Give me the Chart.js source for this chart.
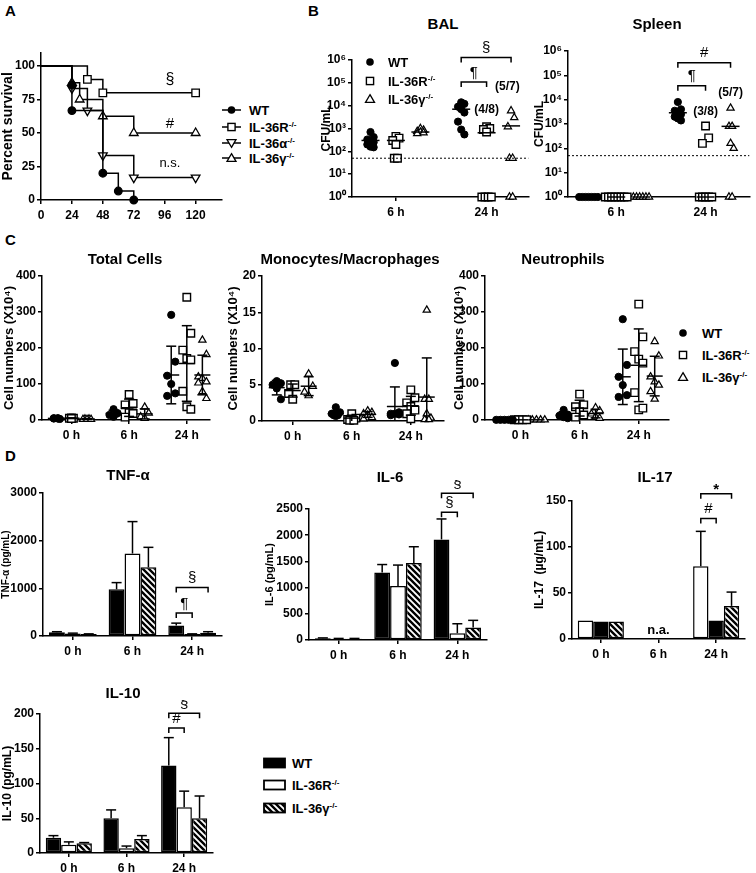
<!DOCTYPE html>
<html>
<head>
<meta charset="utf-8">
<script src="https://cdn.jsdelivr.net/npm/chart.js@4.4.0/dist/chart.umd.min.js"></script>
<style>
body { margin: 0; background: #fff; }
#page { position: relative; width: 756px; height: 873px; overflow: hidden; background: #fff;
  font-family: 'Liberation Sans', Arial, sans-serif; font-weight: bold; color: #000; }
#page canvas { position: absolute; }
.t { position: absolute; white-space: nowrap; line-height: 1; }
.t sup { font-size: 0.62em; vertical-align: 0.55em; line-height: 0; }
</style>
</head>
<body>
<div id="page"></div>
<script>
// ---------- data ----------
const survHours = [0, 24, 48, 72, 96, 120];
const wtTime = [0, 24, 24, 48, 60, 72];
const wtSurv = [100, 85.7, 66.7, 20, 6.7, 0];
const rTime = [0, 36, 48, 120];
const rSurv = [100, 90, 80, 80];
const aTime = [0, 24, 36, 48, 72, 120];
const aSurv = [100, 83.3, 66.7, 33.3, 16.7, 16.7];
const gTime = [0, 24, 30, 48, 72, 120];
const gSurv = [100, 87.5, 75, 62.5, 50, 50];

const cfuTimes = ['6 h', '24 h'];
const cfuTicks = [1, 10, 100, 1e3, 1e4, 1e5, 1e6];
const cfuLimit = 50;
const balWT = [[700, 420, 330, 280, 250, 200, 160, 150], [14000, 12000, 9000, 7000, 5000, 2000, 900, 550]];
const balR = [[450, 380, 300, 200, 50, 50], [1200, 1000, 900, 700, 1, 1, 1, 1]];
const balG = [[1000, 850, 750, 700, 650, 600], [6000, 3000, 1200, 50, 50, 1, 1]];
const balMedian = [[300, 7000], [300, 650], [700, 1300]];
const splWT = [[1, 1, 1, 1, 1, 1, 1], [8000, 4000, 3500, 3000, 2500, 2000, 1700, 1400]];
const splR = [[1, 1, 1, 1, 1, 1, 1, 1], [830, 270, 160, 1, 1, 1, 1, 1]];
const splG = [[1, 1, 1, 1, 1, 1], [4500, 800, 800, 160, 100, 1, 1]];
const splMedian = [[1, 2900], [1, 1], [1, 800]];

const cellTimes = ['0 h', '6 h', '24 h'];
const totWT = [[5, 5, 4, 4, 3], [30, 19, 14, 9], [292, 162, 123, 100, 74, 67]];
const totR = [[6, 5, 5, 4], [71, 46, 42, 20, 18, 8], [341, 241, 194, 171, 167, 80, 37, 30]];
const totG = [[3, 3, 2, 2, 2], [36, 19, 9, 5], [222, 182, 120, 116, 106, 103, 79, 60]];
const totMean = [[4.5, 18, 125], [5, 34, 157], [2.5, 17, 125]];
const totSd = [[1, 9, 80], [1, 24, 105], [1, 14, 55]];
const monoWT = [[5.5, 5.2, 5, 4.5, 3], [1.9, 1.2, 1, 0.9, 0.8, 0.8, 0.7], [8, 1.2, 1, 1, 0.9, 0.8, 1]];
const monoR = [[5, 5, 3.8, 3], [1, 0.4, 0.2, 0.1, 0.1], [4.3, 3.2, 2.5, 2, 1.5, 1, 0.3]];
const monoG = [[6.5, 4.8, 4, 3.5], [1.4, 1.2, 1, 0.8, 0.5, 0.3], [15.3, 3, 3, 1, 0.4, 0.2, 0.2]];
const monoMean = [[4.6, 1, 2], [4.2, 0.4, 2.1], [4.8, 0.9, 3.3]];
const monoSd = [[1, 0.4, 2.7], [0.9, 0.4, 1.3], [1.3, 0.4, 5.4]];
const neuWT = [[0.5, 0.5, 0.5, 0.5, 0.5], [28, 15, 12, 8, 5], [280, 153, 120, 97, 69, 64]];
const neuR = [[0.5, 0.5, 0.5, 0.5], [72, 42, 37, 23, 14, 8], [322, 231, 190, 169, 158, 76, 28, 33]];
const neuG = [[0.5, 0.5, 0.5, 0.5, 0.5], [34, 26, 17, 9, 5], [218, 178, 120, 106, 97, 79, 58]];
const neuMean = [[0.5, 14, 120], [0.5, 33, 152], [0.5, 18, 122]];
const neuSd = [[0, 9, 77], [0, 22, 101], [0, 12, 55]];

const cytoTimes = ['0 h', '6 h', '24 h'];
const tnfMean = [[80, 980, 220], [50, 1730, 40], [40, 1440, 70]];
const tnfErr = [[10, 140, 50], [10, 670, 5], [5, 420, 20]];
const il6Mean = [[35, 1290, 1920], [25, 1030, 130], [25, 1470, 240]];
const il6Err = [[5, 150, 390], [5, 400, 180], [5, 310, 135]];
const il17Mean = [[20, null, 79], [19, null, 20], [19, null, 36]];
const il17Err = [[0, 0, 38], [0, 0, 0], [0, 0, 15]];
const il10Mean = [[22, 50, 126], [12, 7, 66], [14, 20, 50]];
const il10Err = [[3, 12, 40], [4, 3, 23], [1, 5, 32]];

// ---------- setup ----------
const page = document.getElementById('page');
const BLACK = '#000';
const SUP = ['⁰', '¹', '²', '³', '⁴', '⁵', '⁶'];
Chart.defaults.font.family = "'Liberation Sans', Arial, sans-serif";
Chart.defaults.color = BLACK;
Chart.defaults.animation = false;
Chart.defaults.plugins.legend.display = false;
Chart.defaults.plugins.tooltip.enabled = false;

function hatch() {
  const c = document.createElement('canvas');
  c.width = 6; c.height = 6;
  const x = c.getContext('2d');
  x.fillStyle = '#fff'; x.fillRect(0, 0, 6, 6);
  x.strokeStyle = BLACK; x.lineWidth = 2.4;
  x.beginPath();
  x.moveTo(-1, -1); x.lineTo(7, 7);
  x.moveTo(-1, 5); x.lineTo(1, 7);
  x.moveTo(5, -1); x.lineTo(7, 1);
  x.stroke();
  return x.createPattern(c, 'repeat');
}
const HATCH = hatch();

// sideways spread inside one column: equal values in a row, others zig-zag a little
function spreadCol(vals, step) {
  return vals.map((v, i) => {
    const same = vals.filter(u => u === v).length;
    if (same > 1) {
      const k = vals.slice(0, i).filter(u => u === v).length;
      return (k - (same - 1) / 2) * step;
    }
    return [0, 1, -1][i % 3] * step;
  });
}

const marks = {
  id: 'marks',
  afterDatasetsDraw(chart, args, o) {
    const ctx = chart.ctx, a = chart.chartArea;
    const xs = chart.scales.x, ys = chart.scales.y;
    const line = (x1, y1, x2, y2) => { ctx.beginPath(); ctx.moveTo(x1, y1); ctx.lineTo(x2, y2); ctx.stroke(); };
    ctx.save();
    ctx.strokeStyle = BLACK; ctx.fillStyle = BLACK; ctx.lineWidth = 1.5;
    if (o.limit !== undefined) {
      const y = ys.getPixelForValue(o.limit);
      ctx.save(); ctx.lineWidth = 1; ctx.setLineDash([2, 2]);
      line(a.left, y, a.right, y);
      ctx.restore();
    }
    chart.data.datasets.forEach((ds, di) => {
      if (ds.mid) {
        ds.mid.forEach((m, g) => {
          const x = xs.getPixelForValue(o.pos[g] + ds.off);
          const y = ys.getPixelForValue(m);
          line(x - o.mw, y, x + o.mw, y);
          if (ds.sd && ds.sd[g] > 0) {
            const top = ys.getPixelForValue(m + ds.sd[g]);
            let bot = ys.getPixelForValue(m - ds.sd[g]);
            const clipped = m - ds.sd[g] <= 0;
            if (clipped) bot = a.bottom;
            line(x, top, x, bot);
            line(x - o.cw, top, x + o.cw, top);
            if (!clipped) line(x - o.cw, bot, x + o.cw, bot);
          }
        });
      }
      if (ds.err) {
        const meta = chart.getDatasetMeta(di);
        meta.data.forEach((el, j) => {
          if (ds.data[j] == null || !ds.err[j]) return;
          const top = ys.getPixelForValue(ds.data[j] + ds.err[j]);
          line(el.x, el.y, el.x, top);
          line(el.x - o.cw, top, el.x + o.cw, top);
        });
      }
    });
    (o.brackets || []).forEach(b => {
      let x1, x2;
      if (b.cat !== undefined) {
        x1 = chart.getDatasetMeta(b.a).data[b.cat].x;
        x2 = chart.getDatasetMeta(b.b).data[b.cat].x;
      } else {
        x1 = xs.getPixelForValue(b.x1);
        x2 = xs.getPixelForValue(b.x2);
      }
      const y = ys.getPixelForValue(b.v);
      ctx.beginPath();
      ctx.moveTo(x1, y + 5); ctx.lineTo(x1, y); ctx.lineTo(x2, y); ctx.lineTo(x2, y + 5);
      ctx.stroke();
      ctx.font = (b.bold ? 'bold ' : '') + (b.size || 15) + "px 'Liberation Sans', Arial, sans-serif";
      ctx.textAlign = 'center'; ctx.textBaseline = 'bottom';
      ctx.fillText(b.t, (x1 + x2) / 2, y - 2 + (b.dy || 0));
    });
    (o.notes || []).forEach(n => {
      ctx.font = (n.bold ? 'bold ' : '') + (n.size || 14) + "px 'Liberation Sans', Arial, sans-serif";
      ctx.textAlign = 'center'; ctx.textBaseline = 'middle';
      ctx.fillText(n.t, xs.getPixelForValue(n.x), ys.getPixelForValue(n.y));
    });
    ctx.restore();
  }
};
Chart.register(marks);

function canvasAt(l, t, w, h) {
  const c = document.createElement('canvas');
  c.width = w; c.height = h;
  c.style.left = l + 'px'; c.style.top = t + 'px';
  c.style.width = w + 'px'; c.style.height = h + 'px';
  page.appendChild(c);
  return c;
}

function baseAxis() {
  return {
    border: { color: BLACK, width: 1.5 },
    grid: { drawOnChartArea: false, drawTicks: true, tickLength: 4, color: BLACK, lineWidth: 1.5 }
  };
}
function yLin(width, max, step, title, tsize) {
  return Object.assign(baseAxis(), {
    min: 0, max: max,
    ticks: { stepSize: step, includeBounds: false, padding: 2, font: { size: 12, weight: 'bold' },
      callback: v => String(v) },
    title: { display: true, text: title, padding: 0, font: { size: tsize, weight: 'bold' } },
    afterFit: s => { s.width = width; }
  });
}
function yLog(width, title) {
  return Object.assign(baseAxis(), {
    type: 'logarithmic', min: 1, max: 1e6,
    afterBuildTicks: s => { s.ticks = cfuTicks.map(v => ({ value: v })); },
    ticks: { padding: 2, font: { size: 12, weight: 'bold' },
      callback: v => '10' + SUP[Math.round(Math.log10(v))] },
    title: { display: true, text: title, padding: 0, font: { size: 12, weight: 'bold' } },
    afterFit: s => { s.width = width; }
  });
}
function xGroups(min, max, pos, names, h) {
  return Object.assign(baseAxis(), {
    type: 'linear', min: min, max: max,
    afterBuildTicks: s => { s.ticks = pos.map(v => ({ value: v })); },
    ticks: { padding: 4, font: { size: 12, weight: 'bold' }, callback: (v, i) => names[i] },
    afterFit: s => { s.height = h; }
  });
}
function xCats(h) {
  const ax = Object.assign(baseAxis(), {
    type: 'category',
    ticks: { padding: 4, font: { size: 12, weight: 'bold' } },
    afterFit: s => { s.height = h; }
  });
  ax.grid.offset = false;
  return ax;
}

const dotStyles = [
  { pointStyle: 'circle', pointRadius: 3.6, pointBackgroundColor: BLACK, pointBorderColor: BLACK, pointBorderWidth: 1 },
  { pointStyle: 'rect', pointRadius: 5.3, pointBackgroundColor: '#fff', pointBorderColor: BLACK, pointBorderWidth: 1.4 },
  { pointStyle: 'triangle', pointRadius: 4.2, pointBackgroundColor: '#fff', pointBorderColor: BLACK, pointBorderWidth: 1.2 }
];

function dotSets(series, pos, offs, step, mids, sds) {
  return series.map((groups, s) => Object.assign({
    data: groups.flatMap((vals, g) => {
      const dx = spreadCol(vals, step);
      return vals.map((v, i) => ({ x: pos[g] + offs[s] + dx[i], y: v }));
    }),
    off: offs[s], mid: mids[s], sd: sds ? sds[s] : null, clip: false
  }, dotStyles[s]));
}

function dotChart(g, x, y, datasets, marksOpts) {
  new Chart(canvasAt(g.l, g.t, g.w, g.h), {
    type: 'scatter',
    data: { datasets: datasets },
    options: {
      responsive: false, devicePixelRatio: 1,
      layout: { padding: { top: g.pt, right: g.pr, left: 0, bottom: 0 } },
      scales: { x: x, y: y },
      plugins: { marks: marksOpts }
    }
  });
}

function barChart(g, means, errs, fills, y, marksOpts) {
  new Chart(canvasAt(g.l, g.t, g.w, g.h), {
    type: 'bar',
    data: {
      labels: cytoTimes,
      datasets: means.map((m, s) => ({
        data: m, err: errs[s], backgroundColor: fills[s], borderColor: BLACK,
        borderWidth: 1.5, borderSkipped: false, categoryPercentage: 0.8, barPercentage: 1
      }))
    },
    options: {
      responsive: false, devicePixelRatio: 1,
      layout: { padding: { top: g.pt, right: g.pr, left: 0, bottom: 0 } },
      scales: { x: xCats(g.xh || 25), y: y },
      plugins: { marks: Object.assign({ cw: 5 }, marksOpts) }
    }
  });
}

// ---------- A: survival ----------
const survLines = [
  { t: wtTime, s: wtSurv, style: 'circle', r: 3.8, fill: BLACK, rot: 0 },
  { t: rTime, s: rSurv, style: 'rect', r: 5.3, fill: '#fff', rot: 0 },
  { t: aTime, s: aSurv, style: 'triangle', r: 5, fill: '#fff', rot: 180 },
  { t: gTime, s: gSurv, style: 'triangle', r: 5, fill: '#fff', rot: 0 }
];
new Chart(canvasAt(0, 40, 228, 185), {
  type: 'scatter',
  data: {
    datasets: survLines.map(d => ({
      data: d.t.map((h, i) => ({ x: h, y: d.s[i] })),
      showLine: true, stepped: 'before', borderColor: BLACK, borderWidth: 1.5,
      pointStyle: d.style, pointRotation: d.rot, pointBackgroundColor: d.fill,
      pointBorderColor: BLACK, pointBorderWidth: 1.3,
      pointRadius: c => c.dataIndex === 0 ? 0 : d.r, clip: false
    }))
  },
  options: {
    responsive: false, devicePixelRatio: 1,
    layout: { padding: { top: 12.6, right: 6, left: 0, bottom: 0 } },
    scales: {
      x: Object.assign(baseAxis(), {
        type: 'linear', min: 0, max: 140,
        afterBuildTicks: s => { s.ticks = survHours.map(v => ({ value: v })); },
        ticks: { padding: 4, font: { size: 12, weight: 'bold' } },
        afterFit: s => { s.height = 25; }
      }),
      y: yLin(41, 110, 25, 'Percent survival', 14)
    },
    plugins: {
      marks: { notes: [
        { x: 100, y: 90, t: '§', size: 16 },
        { x: 100, y: 57, t: '#', size: 15 },
        { x: 100, y: 27, t: 'n.s.', size: 13 }
      ] }
    }
  }
});

// ---------- B: BAL & spleen ----------
const cfuPos = [1, 2];
dotChart({ l: 319, t: 35, w: 216, h: 187, pt: 25, pr: 2 },
  xGroups(0.516, 2.46, cfuPos, cfuTimes, 25), yLog(33, 'CFU/mL'),
  dotSets([balWT, balR, balG], cfuPos, [-0.28, 0, 0.27], 0.035, balMedian, null),
  { pos: cfuPos, mw: 9, limit: cfuLimit,
    brackets: [
      { x1: 2 - 0.28, x2: 2, v: 1.1e5, t: '¶' },
      { x1: 2 - 0.28, x2: 2.27, v: 1.3e6, t: '§' }
    ],
    notes: [
      { x: 2.0, y: 6500, t: '(4/8)', size: 12, bold: true },
      { x: 2.23, y: 66000, t: '(5/7)', size: 12, bold: true }
    ] });

dotChart({ l: 532, t: 35, w: 224, h: 187, pt: 16, pr: 3 },
  xGroups(0.46, 2.49, cfuPos, cfuTimes, 25), yLog(36, 'CFU/mL'),
  dotSets([splWT, splR, splG], cfuPos, [-0.31, 0, 0.28], 0.035, splMedian, null),
  { pos: cfuPos, mw: 9, limit: cfuLimit,
    brackets: [
      { x1: 2 - 0.31, x2: 2, v: 3.7e4, t: '¶' },
      { x1: 2 - 0.31, x2: 2.28, v: 3.3e5, t: '#' }
    ],
    notes: [
      { x: 2, y: 3200, t: '(3/8)', size: 12, bold: true },
      { x: 2.28, y: 19000, t: '(5/7)', size: 12, bold: true }
    ] });

// ---------- C: cell counts ----------
const cellPos = [1, 2, 3];
const cellOffs = [-0.27, 0, 0.27];
const cellTitle = 'Cell numbers (X10⁴)';
dotChart({ l: 2, t: 262, w: 214, h: 183, pt: 14, pr: 3 },
  xGroups(0.49, 3.39, cellPos, cellTimes, 25), yLin(40, 400, 100, cellTitle, 13),
  dotSets([totWT, totR, totG], cellPos, cellOffs, 0.07, totMean, totSd),
  { pos: cellPos, mw: 8, cw: 5 });
dotChart({ l: 226, t: 262, w: 224, h: 184, pt: 14, pr: 3 },
  xGroups(0.48, 3.55, cellPos, cellTimes, 25), yLin(36, 20, 5, cellTitle, 13),
  dotSets([monoWT, monoR, monoG], cellPos, cellOffs, 0.07, monoMean, monoSd),
  { pos: cellPos, mw: 8, cw: 5 });
dotChart({ l: 452, t: 262, w: 223, h: 183, pt: 14, pr: 3 },
  xGroups(0.4, 3.5, cellPos, cellTimes, 25), yLin(33, 400, 100, cellTitle, 13),
  dotSets([neuWT, neuR, neuG], cellPos, cellOffs, 0.07, neuMean, neuSd),
  { pos: cellPos, mw: 8, cw: 5 });

// ---------- D: cytokines ----------
const stdFills = [BLACK, '#fff', HATCH];
barChart({ l: 0, t: 480, w: 225, h: 181, pt: 13, pr: 3 }, tnfMean, tnfErr, stdFills,
  yLin(43, 3000, 1000, 'TNF-α (pg/mL)', 10),
  { brackets: [{ a: 0, b: 1, cat: 2, v: 480, t: '¶' }, { a: 0, b: 2, cat: 2, v: 1020, t: '§' }] });
barChart({ l: 263, t: 480, w: 227, h: 185, pt: 29, pr: 3 }, il6Mean, il6Err, stdFills,
  yLin(46, 2500, 500, 'IL-6 (pg/mL)', 11),
  { brackets: [{ a: 0, b: 1, cat: 2, v: 2440, t: '§' }, { a: 0, b: 2, cat: 2, v: 2800, t: '§' }] });
barChart({ l: 532, t: 480, w: 224, h: 184, pt: 21, pr: 11 }, il17Mean, il17Err, ['#fff', BLACK, HATCH],
  yLin(40, 150, 50, 'IL-17  (µg/mL)', 12),
  { brackets: [{ a: 0, b: 1, cat: 2, v: 131, t: '#' },
               { a: 0, b: 2, cat: 2, v: 158, t: '*', size: 15, bold: true, dy: 6 }],
    notes: [{ x: 1, y: 9, t: 'n.a.', size: 13, bold: true }] });
barChart({ l: 0, t: 700, w: 216, h: 173, pt: 14, pr: 3, xh: 20 }, il10Mean, il10Err, stdFills,
  yLin(40, 200, 50, 'IL-10 (pg/mL)', 12),
  { brackets: [{ a: 0, b: 1, cat: 2, v: 180, t: '#' }, { a: 0, b: 2, cat: 2, v: 201, t: '§' }] });

// ---------- text & legends ----------
function text(html, x, y, size, center) {
  const d = document.createElement('div');
  d.className = 't';
  d.innerHTML = html;
  d.style.left = x + 'px'; d.style.top = y + 'px'; d.style.fontSize = size + 'px';
  d.style.transform = center ? 'translate(-50%,-50%)' : 'translateY(-50%)';
  page.appendChild(d);
}
[['A', 5, 10], ['B', 308, 10], ['C', 5, 239], ['D', 5, 455]].forEach(p => text(p[0], p[1], p[2], 15));
[['BAL', 443, 23], ['Spleen', 657, 23], ['Total Cells', 125, 258], ['Monocytes/Macrophages', 350, 258],
 ['Neutrophils', 563, 258], ['TNF-α', 128, 474], ['IL-6', 390, 476], ['IL-17', 655, 476], ['IL-10', 123, 692]]
  .forEach(p => text(p[0], p[1], p[2], 15, true));

const KO = '<sup>-/-</sup>';
const survNames = ['WT', 'IL-36R' + KO, 'IL-36α' + KO, 'IL-36γ' + KO];
const dotNames = ['WT', 'IL-36R' + KO, 'IL-36γ' + KO];

const sym = {
  circle: (x, y) => `<circle cx="${x}" cy="${y}" r="3.8" fill="#000"/>`,
  square: (x, y) => `<rect x="${x - 3.6}" y="${y - 3.6}" width="7.2" height="7.2" fill="#fff" stroke="#000" stroke-width="1.4"/>`,
  up: (x, y) => `<polygon points="${x},${y - 4.3} ${x + 4.5},${y + 3.3} ${x - 4.5},${y + 3.3}" fill="#fff" stroke="#000" stroke-width="1.3"/>`,
  down: (x, y) => `<polygon points="${x},${y + 4.3} ${x + 4.5},${y - 3.3} ${x - 4.5},${y - 3.3}" fill="#fff" stroke="#000" stroke-width="1.3"/>`
};
let svg = '<defs><pattern id="hp" width="6" height="6" patternUnits="userSpaceOnUse">' +
  '<rect width="6" height="6" fill="#fff"/><path d="M-1,-1 L7,7 M-1,5 L1,7 M5,-1 L7,1" stroke="#000" stroke-width="2.4"/></pattern></defs>';
const survRows = [110, 127, 143, 158];
['circle', 'square', 'down', 'up'].forEach((k, i) => {
  svg += `<line x1="222" y1="${survRows[i]}" x2="241" y2="${survRows[i]}" stroke="#000" stroke-width="1.5"/>` + sym[k](231.5, survRows[i]);
  text(survNames[i], 249, survRows[i], 13);
});
const balRows = [62, 81, 99];
const cellRows = [333, 355, 377];
['circle', 'square', 'up'].forEach((k, i) => {
  svg += sym[k](370, balRows[i]) + sym[k](683, cellRows[i]);
  text(dotNames[i], 388, balRows[i], 13);
  text(dotNames[i], 702, cellRows[i], 13);
});
const barRows = [763, 785, 808];
['#000', '#fff', 'url(#hp)'].forEach((f, i) => {
  svg += `<rect x="264" y="${barRows[i] - 4.5}" width="21" height="9" fill="${f}" stroke="#000" stroke-width="1.8"/>`;
  text(dotNames[i], 292, barRows[i], 13);
});
const ov = document.createElementNS('http://www.w3.org/2000/svg', 'svg');
ov.setAttribute('width', 756); ov.setAttribute('height', 873);
ov.style.position = 'absolute'; ov.style.left = '0'; ov.style.top = '0';
ov.innerHTML = svg;
page.appendChild(ov);
</script>
</body>
</html>
